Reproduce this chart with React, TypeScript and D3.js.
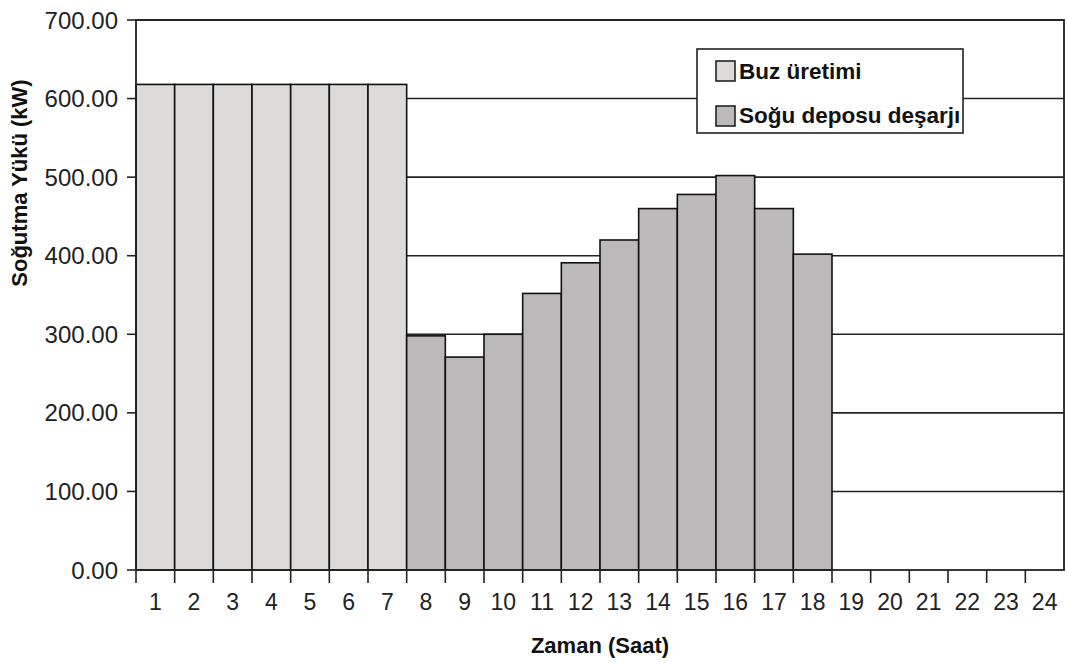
import React from "react";
import * as d3 from "d3";

const hours = d3.range(1, 25).map(String);
const buzUretimi = [618, 618, 618, 618, 618, 618, 618, 0, 0, 0, 0, 0, 0, 0, 0, 0, 0, 0, 0, 0, 0, 0, 0, 0];
const soguDeposu = [0, 0, 0, 0, 0, 0, 0, 298, 271, 300, 352, 391, 420, 460, 478, 502, 460, 402, 0, 0, 0, 0, 0, 0];
const yTicks = [0, 100, 200, 300, 400, 500, 600, 700];
const legendLabels = ["Buz üretimi", "Soğu deposu deşarjı"];
const colors = ["#dcdbda", "#bbb9ba"];

const W = 1067;
const H = 664;
const M = { left: 136, right: 1064, top: 20, bottom: 570 };
const FONT = "'Liberation Sans', Arial, Helvetica, sans-serif";

export default function App() {
  const x = d3.scaleBand<string>().domain(hours).range([M.left, M.right]).padding(0);
  const y = d3.scaleLinear().domain([0, 700]).range([M.bottom, M.top]);
  const bw = x.bandwidth();
  const series = [buzUretimi, soguDeposu];

  return (
    <svg width={W} height={H} style={{ position: "absolute", left: 0, top: 0, background: "#fff" }} fontFamily={FONT}>
      <rect x={0} y={0} width={W} height={H} fill="#fff" />
      {/* gridlines */}
      {yTicks.filter((t) => t > 0).map((t) => (
        <line key={"g" + t} x1={M.left} x2={M.right} y1={y(t)} y2={y(t)} stroke="#222" strokeWidth={1.6} />
      ))}
      {/* bars */}
      {series.map((s, si) =>
        s.map((v, i) =>
          v > 0 ? (
            <rect
              key={si + "-" + i}
              x={x(hours[i])!}
              y={y(v)}
              width={bw}
              height={y(0) - y(v)}
              fill={colors[si]}
              stroke="#111"
              strokeWidth={1.6}
            />
          ) : null
        )
      )}
      {/* frame */}
      <rect x={M.left} y={M.top} width={M.right - M.left} height={M.bottom - M.top} fill="none" stroke="#222" strokeWidth={1.8} />
      {/* y ticks */}
      {yTicks.map((t) => (
        <g key={"y" + t}>
          <line x1={M.left - 9} x2={M.left} y1={y(t)} y2={y(t)} stroke="#222" strokeWidth={1.6} />
          <text x={118} y={y(t)} dy="0.36em" textAnchor="end" fontSize={24} fill="#222">
            {t.toFixed(2)}
          </text>
        </g>
      ))}
      {/* x ticks */}
      {hours.map((h, i) => (
        <g key={"x" + h}>
          <line x1={x(h)!} x2={x(h)!} y1={M.bottom} y2={M.bottom + 13} stroke="#222" strokeWidth={1.6} />
          <text x={x(h)! + bw / 2} y={610} textAnchor="middle" fontSize={23} fill="#222">
            {h}
          </text>
          {i === hours.length - 1 ? null : null}
        </g>
      ))}
      {/* axis titles */}
      <text x={(M.left + M.right) / 2} y={653} textAnchor="middle" fontSize={22} fontWeight="bold" fill="#111">
        Zaman (Saat)
      </text>
      <text transform={`translate(27,183) rotate(-90)`} textAnchor="middle" fontSize={22} fontWeight="bold" fill="#111">
        Soğutma Yükü (kW)
      </text>
      {/* legend */}
      <rect x={697} y={49} width={266} height={84} fill="#fff" stroke="#222" strokeWidth={1.6} />
      {legendLabels.map((l, i) => (
        <g key={l}>
          <rect x={716} y={61 + i * 45} width={19} height={20} fill={colors[i]} stroke="#222" strokeWidth={1.6} />
          <text x={739} y={79 + i * 44} fontSize={22.5} fontWeight="bold" fill="#111">
            {l}
          </text>
        </g>
      ))}
    </svg>
  );
}
